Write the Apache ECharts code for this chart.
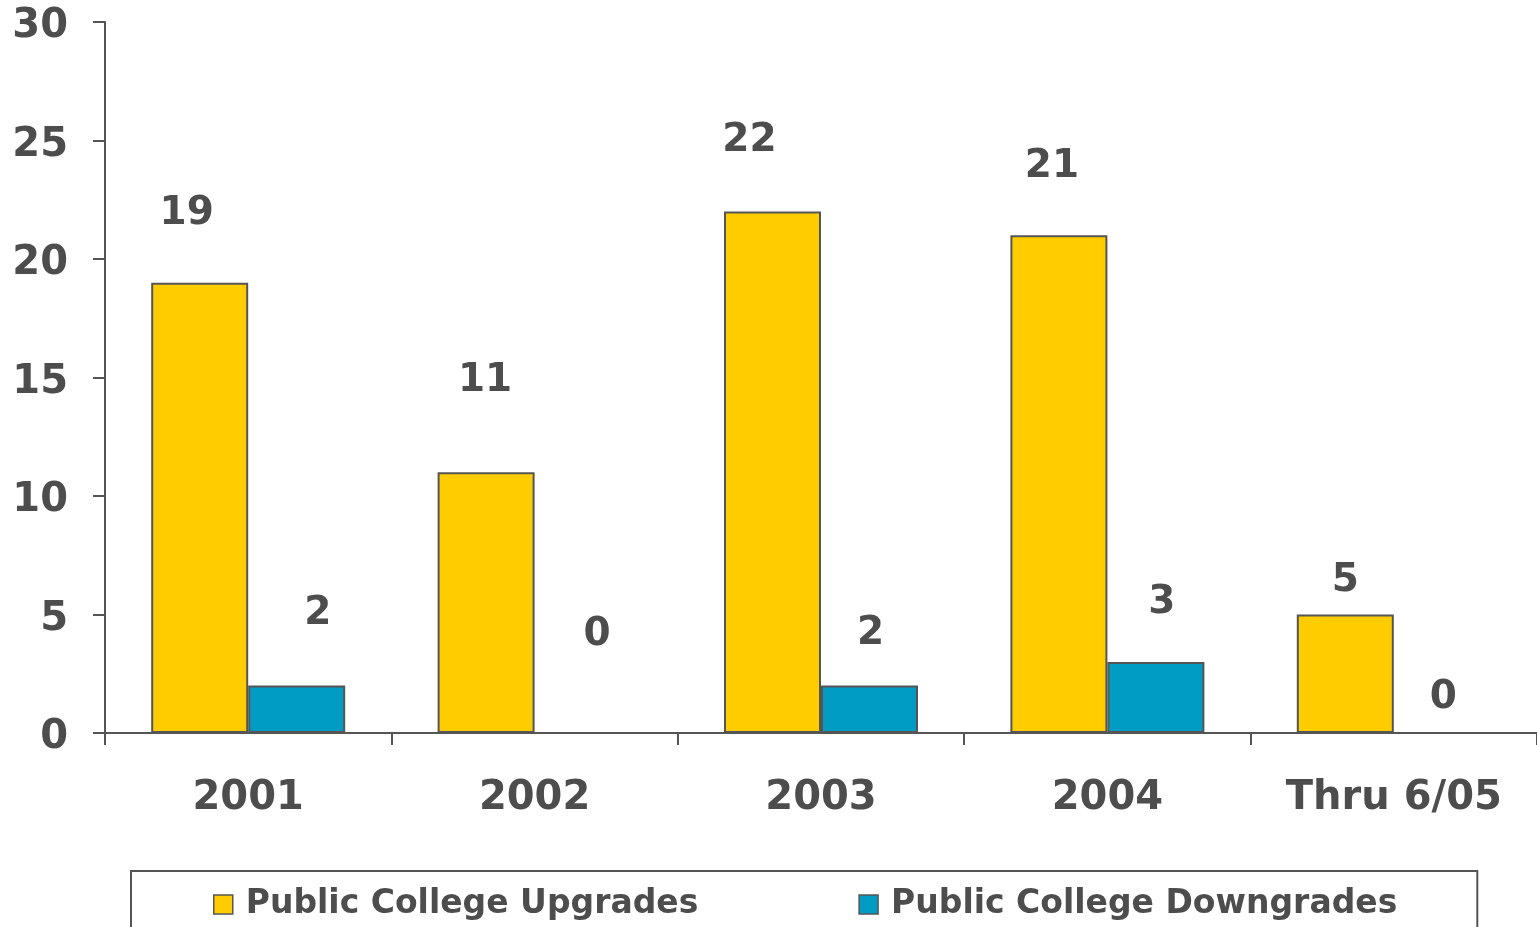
<!DOCTYPE html>
<html>
<head>
<meta charset="utf-8">
<title>Public College Rating Changes</title>
<script src="https://cdn.jsdelivr.net/npm/echarts@6/dist/echarts.min.js"></script>
<style>
  html, body { margin: 0; padding: 0; background: #ffffff; }
  #chart { width: 1537px; height: 927px; }
</style>
</head>
<body>
<div id="chart"></div>
<script>
// Rating actions per period
const categories = ['2001', '2002', '2003', '2004', 'Thru 6/05'];
const upgrades = [19, 11, 22, 21, 5];
const downgrades = [2, 0, 2, 3, 0];
const seriesNames = ['Public College Upgrades', 'Public College Downgrades'];

// Value-label nudges [dx, dy] relative to the bar top
const upgradeLabelOffsets = [[-13, -49], [-1, -72], [-23, -51], [-7, -49], [0, -14]];
const downgradeLabelOffsets = [[21, -52], [14, -78], [1, -32], [6, -40], [1, -15]];

const FONT = 'DejaVu Sans';
const TEXT = '#4d4d4d';
const LINE = '#555555';

function withOffsets(values, offsets) {
  return values.map((v, i) => ({ value: v, label: { offset: offsets[i] } }));
}

const chart = echarts.init(document.getElementById('chart'), null, { renderer: 'canvas' });

const barLabel = {
  show: true,
  position: 'top',
  distance: 0,
  color: TEXT,
  fontFamily: FONT,
  fontWeight: 'bold',
  fontSize: 39
};

chart.setOption({
  animation: false,
  backgroundColor: '#ffffff',
  grid: { left: 105, right: 0, top: 22, bottom: 194, containLabel: false },
  xAxis: {
    type: 'category',
    data: categories,
    axisLine: { show: true, lineStyle: { color: LINE, width: 2 } },
    axisTick: { show: true, length: 12, interval: 0, lineStyle: { color: LINE, width: 2 } },
    axisLabel: {
      interval: 0,
      margin: 46,
      color: TEXT,
      fontFamily: FONT,
      fontWeight: 'bold',
      fontSize: 40
    },
    splitLine: { show: false }
  },
  yAxis: {
    type: 'value',
    min: 0,
    max: 30,
    interval: 5,
    axisLine: { show: true, lineStyle: { color: LINE, width: 2 } },
    axisTick: { show: true, length: 12, lineStyle: { color: LINE, width: 2 } },
    axisLabel: {
      margin: 37,
      formatter: (v) => '{t|' + v + '}',
      rich: {
        t: {
          padding: [10, 0, 0, 0],
          color: TEXT,
          fontFamily: FONT,
          fontWeight: 'bold',
          fontSize: 40
        }
      }
    },
    splitLine: { show: false }
  },
  legend: {
    data: seriesNames,
    left: 131,
    top: 871,
    orient: 'horizontal',
    icon: 'rect',
    itemWidth: 19,
    itemHeight: 19,
    itemGap: 160,
    padding: [17, 80, 17, 82],
    borderColor: LINE,
    borderWidth: 2,
    backgroundColor: '#ffffff',
    itemStyle: { borderColor: LINE, borderWidth: 1.5 },
    textStyle: {
      color: TEXT,
      fontFamily: FONT,
      fontWeight: 'bold',
      fontSize: 33,
      padding: [0, 0, 0, 8]
    }
  },
  series: [
    {
      name: seriesNames[0],
      type: 'bar',
      barWidth: 97,
      barGap: '0%',
      data: withOffsets(upgrades, upgradeLabelOffsets),
      itemStyle: { color: '#FFCC00', borderColor: LINE, borderWidth: 2 },
      label: barLabel
    },
    {
      name: seriesNames[1],
      type: 'bar',
      barWidth: 97,
      barGap: '0%',
      data: withOffsets(downgrades, downgradeLabelOffsets),
      itemStyle: { color: '#009CC4', borderColor: LINE, borderWidth: 2 },
      label: barLabel
    }
  ]
});
</script>
</body>
</html>
